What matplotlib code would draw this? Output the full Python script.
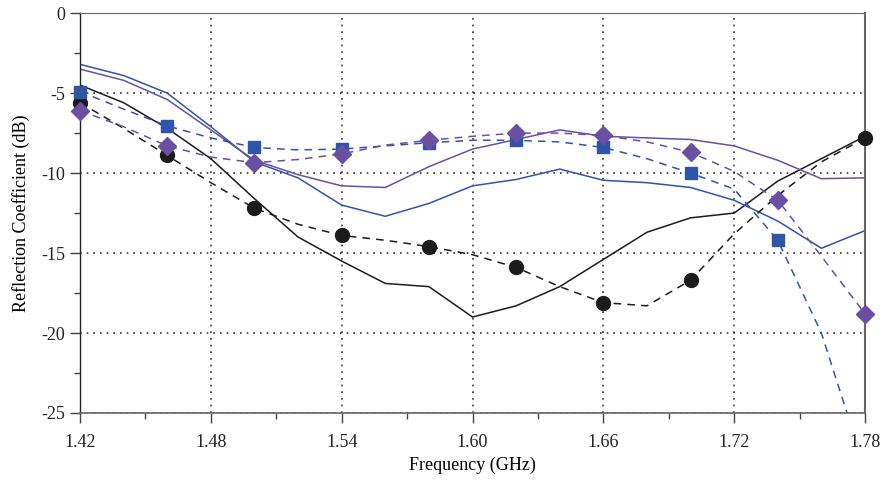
import matplotlib
matplotlib.use("Agg")
import matplotlib.pyplot as plt
from matplotlib.ticker import MultipleLocator
import numpy as np

plt.rcParams["font.family"] = ["Liberation Serif", "DejaVu Serif"]

# frequency grid (GHz)
freq = [1.42, 1.44, 1.46, 1.48, 1.50, 1.52, 1.54, 1.56, 1.58, 1.60,
        1.62, 1.64, 1.66, 1.68, 1.70, 1.72, 1.74, 1.76, 1.78]

# solid curves
black_solid = [-4.5, -5.6, -7.2, -9.1, -11.6, -14.0, -15.5, -16.9, -17.1, -19.0,
               -18.3, -17.1, -15.4, -13.7, -12.8, -12.5, -10.5, -9.1, -7.7]
blue_solid = [-3.2, -3.9, -5.0, -7.1, -9.3, -10.3, -12.0, -12.7, -11.9, -10.8,
              -10.4, -9.75, -10.45, -10.6, -10.9, -11.7, -13.0, -14.7, -13.6]
purple_solid = [-3.5, -4.2, -5.4, -7.3, -9.2, -10.1, -10.8, -10.9, -9.6, -8.5,
                -7.9, -7.3, -7.7, -7.8, -7.9, -8.3, -9.2, -10.35, -10.3]

# dashed curves
black_dashed = [-5.6, -7.2, -8.9, -10.6, -12.2, -13.2, -13.9, -14.2, -14.6, -15.1,
                -15.9, -17.1, -18.1, -18.3, -16.7, -13.8, -11.4, -9.3, -7.8]
blue_dashed = [-4.9, -6.0, -7.05, -7.8, -8.4, -8.55, -8.5, -8.3, -8.1, -7.95,
               -7.95, -8.05, -8.4, -9.1, -10.0, -11.0, -14.2, -20.0, -28.5]
purple_dashed = [-6.1, -7.1, -8.3, -9.0, -9.35, -9.15, -8.8, -8.25, -7.95, -7.7,
                 -7.5, -7.5, -7.65, -8.05, -8.7, -9.9, -11.7, -15.2, -18.8]

# which points carry a marker
black_marks = [0, 2, 4, 6, 8, 10, 12, 14, 18]
blue_marks = [0, 2, 4, 6, 8, 10, 12, 14, 16]
purple_marks = [0, 2, 4, 6, 8, 10, 12, 14, 16, 18]

BLACK = "#1c1c1c"
BLUE = "#2f55a8"
PURPLE = "#6a4fa3"

fig = plt.figure(figsize=(8.85, 4.87), dpi=100)
ax = fig.add_axes([0.0904, 0.152, 0.887, 0.821])

dash = (0, (5, 4))
ax.plot(freq, black_solid, color=BLACK, lw=1.1)
ax.plot(freq, blue_solid, color=BLUE, lw=1.1)
ax.plot(freq, purple_solid, color=PURPLE, lw=1.1)

x = np.array(freq)
for ys, col, mk, ms, idx in [(black_dashed, BLACK, "o", 10, black_marks),
                             (blue_dashed, BLUE, "s", 8.5, blue_marks),
                             (purple_dashed, PURPLE, "D", 9.5, purple_marks)]:
    ax.plot(freq, ys, color=col, lw=1.1, ls=dash)
    ys = np.array(ys)
    ax.plot(x[idx], ys[idx], ls="none", marker=mk, ms=ms, mfc=col, mec=col,
            clip_on=False, zorder=3)

ax.set_xlim(1.42, 1.78)
ax.set_ylim(-25, 0)
xt = np.arange(1.42, 1.7801, 0.06)
ax.set_xticks(xt)
ax.set_xticklabels([f"{v:.2f}" for v in xt])
ax.set_xticks(np.arange(1.45, 1.78, 0.06), minor=True)
ax.yaxis.set_major_locator(MultipleLocator(5))
ax.yaxis.set_minor_locator(MultipleLocator(2.5))
ax.set_yticklabels([f"{int(v)}" for v in ax.get_yticks()])

ax.grid(True, which="major", ls=(0, (1, 3)), color="#333333", lw=1.2)
ax.tick_params(which="major", direction="out", length=7, width=1, labelsize=13,
               colors="#444444", labelcolor="#222222")
ax.tick_params(which="minor", direction="out", length=4, width=1, colors="#444444")
ax.tick_params(axis="x", pad=8)

for s in ["top", "right", "bottom"]:
    ax.spines[s].set_color("#666666")
ax.spines["top"].set_linewidth(0.8)
ax.spines["right"].set_linewidth(1.5)
ax.spines["bottom"].set_linewidth(1.2)
ax.spines["left"].set_linewidth(1.0)
ax.spines["left"].set_color("#222222")

ax.set_xlabel("Frequency (GHz)", fontsize=13, labelpad=4)
ax.set_ylabel("Reflection Coefficient (dB)", fontsize=13, labelpad=8)

fig.savefig("out.png", dpi=100)
